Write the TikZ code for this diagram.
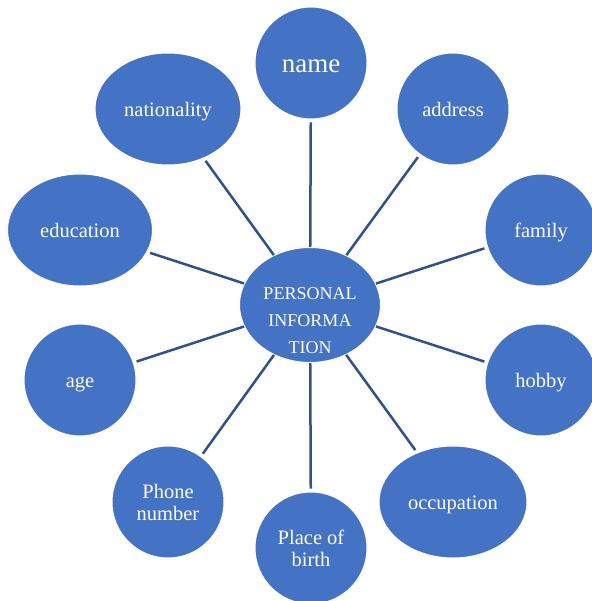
\documentclass[tikz,border=0pt]{standalone}
\usepackage{fontspec}
\setmainfont{Liberation Serif}
\usetikzlibrary{shapes.geometric}
\definecolor{bubblefill}{HTML}{4472C4}
\definecolor{spokeline}{HTML}{2F528F}
\begin{document}
\begin{tikzpicture}[x=1pt,y=-1pt,
        bubble/.style={ellipse, fill=bubblefill, draw=white, line width=1pt, text=white, align=center,
            minimum height=112pt, inner sep=0pt, font=\fontsize{20.5}{22}\selectfont},
        oneline/.style={text height=15pt, text depth=0pt},
        twoline/.style={},
        bigline/.style={text height=19pt, text depth=0pt, font=\fontsize{27}{30}\selectfont},
        spoke/.style={draw=spokeline, line width=2.5pt, shorten >=3pt}]
        \useasboundingbox (0,0) rectangle (591,601);
        \node[bubble, minimum width=141pt, minimum height=115pt, font=\fontsize{18}{27}\selectfont] (info) at (310,305)
            {\raisebox{-20pt}[0pt][0pt]{\begin{tabular}{@{}c@{}}PERSONAL\\INFORMA\\TION\end{tabular}}};
        \foreach \x/\y/\w/\s/\n/\l in {311/63/112/bigline/name/name,453/109/112/oneline/address/address,541/230/112/oneline/family/family,541/380/112/oneline/hobby/hobby,453/502/148/oneline/occup/occupation,311/548/112/twoline/birth/{Place of\\birth},168/502/112/twoline/phone/{Phone\\number},80/380/112/oneline/age/age,80/230/145/oneline/edu/education,168/109/146/oneline/nation/nationality}{
            \node[bubble, \s, minimum width=\w pt] (\n) at (\x,\y) {\l};
        }
        \foreach \n in {name,address,family,hobby,occup,birth,phone,age,edu,nation}{
            \draw[spoke] (info) -- (\n);
        }
\end{tikzpicture}
\end{document}
